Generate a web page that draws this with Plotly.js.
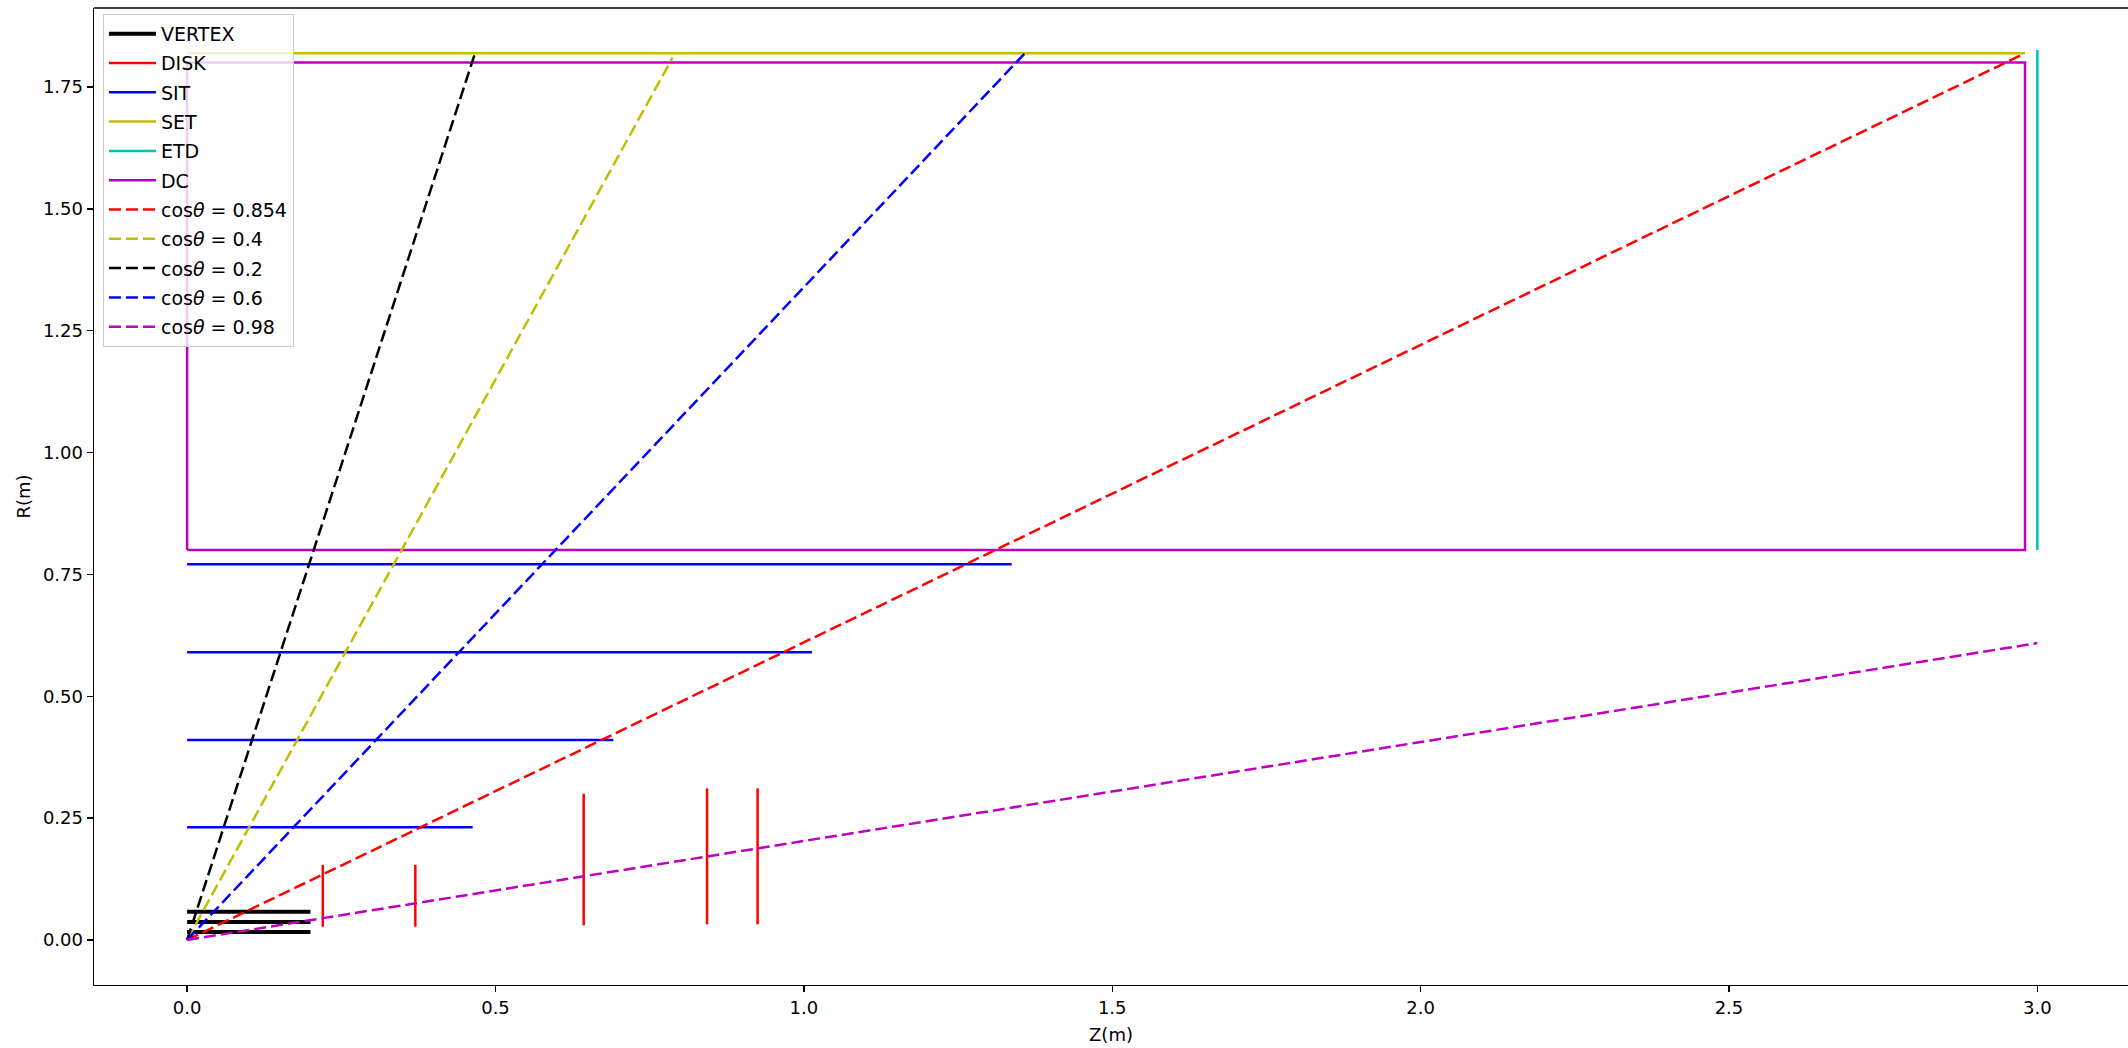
<!DOCTYPE html>
<html>
<head>
<meta charset="utf-8">
<script src="https://cdn.plot.ly/plotly-3.0.1.min.js"></script>
<style>
  html, body { margin: 0; padding: 0; background: #fff; }
  #chart { width: 2128px; height: 1048px; }
</style>
</head>
<body>
<div id="chart"></div>
<script>
// ---- data (metres) ----
const vertexZ = [0, 0.2];
const vertexR = [0.016, 0.037, 0.058];

const diskZ = [0.22, 0.37, 0.643, 0.843, 0.925];
const diskRmin = [0.027, 0.027, 0.030, 0.032, 0.032];
const diskRmax = [0.154, 0.154, 0.300, 0.311, 0.311];

const sitR = [0.231, 0.410, 0.590, 0.771];
const sitZmax = [0.463, 0.691, 1.013, 1.337];

const setZ = [0, 2.98];
const setR = 1.819;

const etdZ = 3.0;
const etdR = [0.80, 1.826];

const dcZ = [0, 2.98];
const dcR = [0.80, 1.80];

const cosLabels = ['0.854', '0.4', '0.2', '0.6', '0.98'];
const cosZend = [2.975, 0.787, 0.467, 1.359, 3.0];
const cosRend = [1.816, 1.810, 1.820, 1.820, 0.609];
const cosColors = ['#ff0000', '#bfbf00', '#000000', '#0000ff', '#bf00bf'];

// ---- build traces ----
function segs(list) { // list of [[z0,r0],[z1,r1]]
  const x = [], y = [];
  list.forEach((s, i) => {
    if (i > 0) { x.push(null); y.push(null); }
    x.push(s[0][0], s[1][0]); y.push(s[0][1], s[1][1]);
  });
  return {x, y};
}

const traces = [];
let g = 0;
function addTrace(name, data, color, width, dash) {
  traces.push({
    type: 'scatter', mode: 'lines', name: name,
    x: data.x, y: data.y, connectgaps: false,
    legendgroup: 'g' + (g++),
    line: {color: color, width: width, dash: dash || 'solid'},
    hoverinfo: 'skip'
  });
}

addTrace('VERTEX', segs(vertexR.map(r => [[vertexZ[0], r], [vertexZ[1], r]])), '#000000', 4);
addTrace('DISK', segs(diskZ.map((z, i) => [[z, diskRmin[i]], [z, diskRmax[i]]])), '#ff0000', 2.5);
addTrace('SIT', segs(sitR.map((r, i) => [[0, r], [sitZmax[i], r]])), '#0000ff', 2.5);
addTrace('SET', {x: setZ, y: [setR, setR]}, '#bfbf00', 2.5);
addTrace('ETD', {x: [etdZ, etdZ], y: etdR}, '#00bfbf', 2.5);
addTrace('DC', {x: [dcZ[0], dcZ[1], dcZ[1], dcZ[0], dcZ[0]], y: [dcR[0], dcR[0], dcR[1], dcR[1], dcR[0]]}, '#bf00bf', 2.5);
cosLabels.forEach((lab, i) => {
  addTrace('cos<i>θ</i> = ' + lab, {x: [0, cosZend[i]], y: [0, cosRend[i]]}, cosColors[i], 2.5, '12px,5px');
});

const font = {family: 'DejaVu Sans, sans-serif', size: 18, color: '#000'};
const legendFont = {family: 'DejaVu Sans, sans-serif', size: 19, color: '#000'};

const layout = {
  width: 2128, height: 1048,
  margin: {l: 94, r: 0, t: 8, b: 63, pad: 0},
  paper_bgcolor: '#fff', plot_bgcolor: '#fff',
  font: font,
  showlegend: true,
  legend: {
    x: 0.0044, y: 0.994, xanchor: 'left', yanchor: 'top',
    bgcolor: 'rgba(255,255,255,0.8)', bordercolor: '#cccccc', borderwidth: 1,
    font: legendFont, traceorder: 'grouped', tracegroupgap: 1.6, itemwidth: 47
  },
  xaxis: {
    range: [-0.151, 3.147], dtick: 0.5, tick0: 0, tickformat: '.1f',
    showgrid: false, zeroline: false, showline: true, linecolor: '#000', linewidth: 1.4,
    ticks: 'outside', ticklen: 6, tickwidth: 1.4, tickcolor: '#000',
    tickfont: font, automargin: false,
    title: {text: 'Z(m)', font: font, standoff: 11}
  },
  yaxis: {
    range: [-0.0925, 1.912], dtick: 0.25, tick0: 0, tickformat: '.2f',
    showgrid: false, zeroline: false, showline: true, linecolor: '#000', linewidth: 1.4,
    ticks: 'outside', ticklen: 6, tickwidth: 1.4, tickcolor: '#000',
    tickfont: font, automargin: false,
    title: {text: 'R(m)', font: font, standoff: 7}
  },
  shapes: [{type: 'line', xref: 'paper', yref: 'paper', x0: 0, x1: 1, y0: 1, y1: 1,
            line: {color: '#000', width: 1.4}}]
};

Plotly.newPlot('chart', traces, layout, {displayModeBar: false, staticPlot: true});
</script>
</body>
</html>
